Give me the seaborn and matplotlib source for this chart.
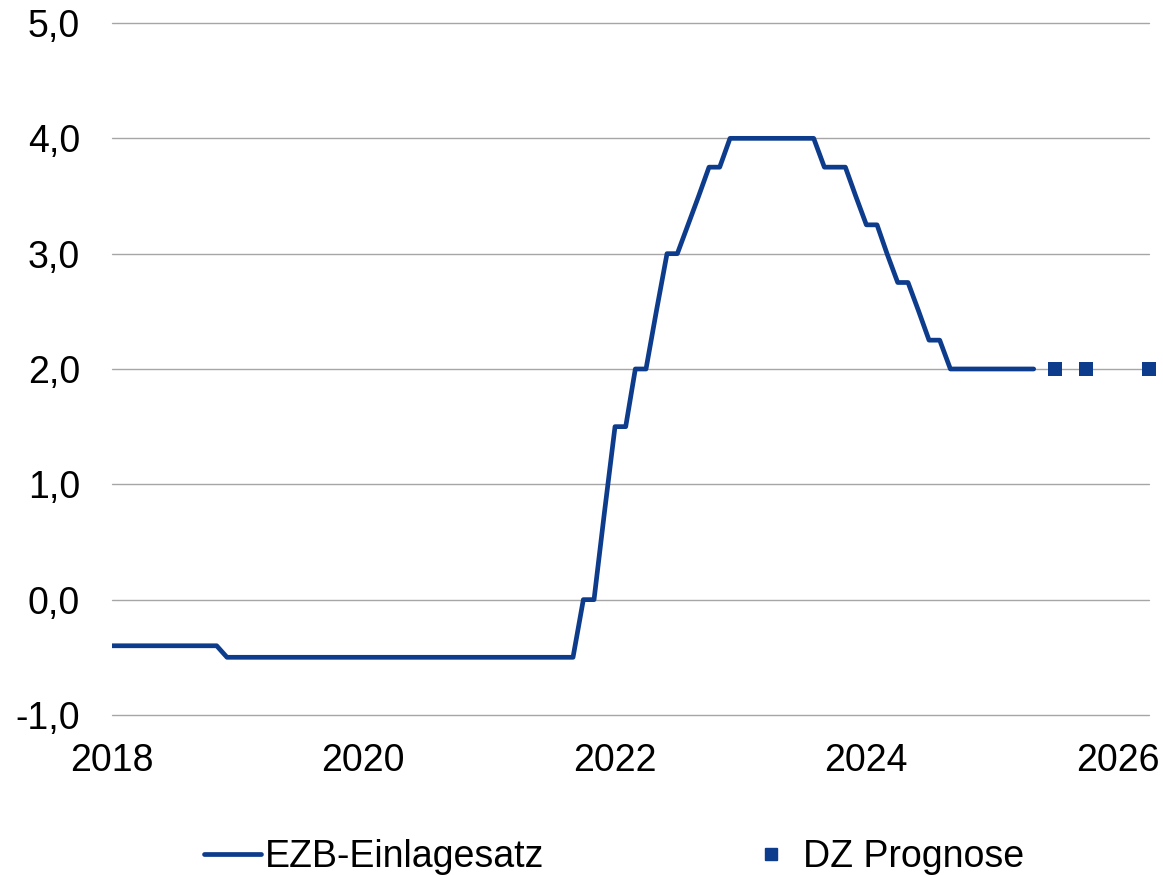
import pandas as pd
import matplotlib.pyplot as plt
import matplotlib.dates as mdates
from matplotlib.lines import Line2D
from matplotlib.ticker import FuncFormatter
import seaborn as sns

# Monthly ECB deposit rate, Jan 2018 - May 2025 (one row per year)
rate_values = [
    -0.4, -0.4, -0.4, -0.4, -0.4, -0.4, -0.4, -0.4, -0.4, -0.4, -0.4, -0.5,
    -0.5, -0.5, -0.5, -0.5, -0.5, -0.5, -0.5, -0.5, -0.5, -0.5, -0.5, -0.5,
    -0.5, -0.5, -0.5, -0.5, -0.5, -0.5, -0.5, -0.5, -0.5, -0.5, -0.5, -0.5,
    -0.5, -0.5, -0.5, -0.5, -0.5, -0.5, -0.5, -0.5, -0.5, 0.0, 0.0, 0.75,
    1.5, 1.5, 2.0, 2.0, 2.5, 3.0, 3.0, 3.25, 3.5, 3.75, 3.75, 4.0,
    4.0, 4.0, 4.0, 4.0, 4.0, 4.0, 4.0, 4.0, 3.75, 3.75, 3.75, 3.5,
    3.25, 3.25, 3.0, 2.75, 2.75, 2.5, 2.25, 2.25, 2.0, 2.0, 2.0, 2.0,
    2.0, 2.0, 2.0, 2.0, 2.0,
]
rate_dates = pd.date_range("2018-01-01", periods=len(rate_values), freq="MS")

# DZ forecast points
forecast_dates = pd.to_datetime(["2025-07-01", "2025-10-01", "2026-04-01"])
forecast_values = [2.0, 2.0, 2.0]

year_ticks = [2018, 2020, 2022, 2024, 2026]
y_ticks = [-1, 0, 1, 2, 3, 4, 5]

blue = "#0e3c8c"

sns.set_theme(style="white")
plt.rcParams["font.family"] = ["Liberation Sans", "DejaVu Sans"]
plt.rcParams["text.color"] = "black"

fig = plt.figure(figsize=(11.63, 8.75), dpi=100)
ax = fig.add_axes([0.0963, 0.1829, 0.8917, 0.7908])

sns.lineplot(x=rate_dates, y=rate_values, ax=ax, color=blue, linewidth=3.4)
sns.scatterplot(x=forecast_dates, y=forecast_values, ax=ax, color=blue,
                marker="s", s=100, linewidth=0, clip_on=False, zorder=5)

ax.set_xlim(pd.Timestamp("2018-01-01"), pd.Timestamp("2026-04-01"))
ax.set_ylim(-1, 5)
ax.set_yticks(y_ticks)
ax.yaxis.set_major_formatter(FuncFormatter(lambda v, p: f"{v:.1f}".replace(".", ",")))
ax.set_xticks([pd.Timestamp(f"{y}-01-01") for y in year_ticks])
ax.xaxis.set_major_formatter(mdates.DateFormatter("%Y"))

ax.grid(axis="y", color="#a6a6a6", linewidth=1)
ax.grid(axis="x", visible=False)
for gl in ax.get_ygridlines():
    gl.set_clip_on(False)
ax.set_axisbelow(True)
for s in ax.spines.values():
    s.set_visible(False)
ax.tick_params(axis="x", length=0, pad=20, labelsize=27, colors="black")
ax.tick_params(axis="y", length=0, pad=23, labelsize=27, colors="black")
ax.set_xlabel("")
ax.set_ylabel("")

handles = [
    Line2D([], [], color=blue, linewidth=3.4),
    Line2D([], [], color=blue, marker="s", linestyle="none", markersize=9),
]
fig.legend(handles, ["EZB-Einlagesatz", "DZ Prognose"], loc="center",
           bbox_to_anchor=(0.528, 1 - 857 / 875), ncol=2, frameon=False,
           fontsize=27, handlelength=1.5, handletextpad=0.1, columnspacing=5.3,
           labelcolor="black")

fig.savefig("out.png", dpi=100)
